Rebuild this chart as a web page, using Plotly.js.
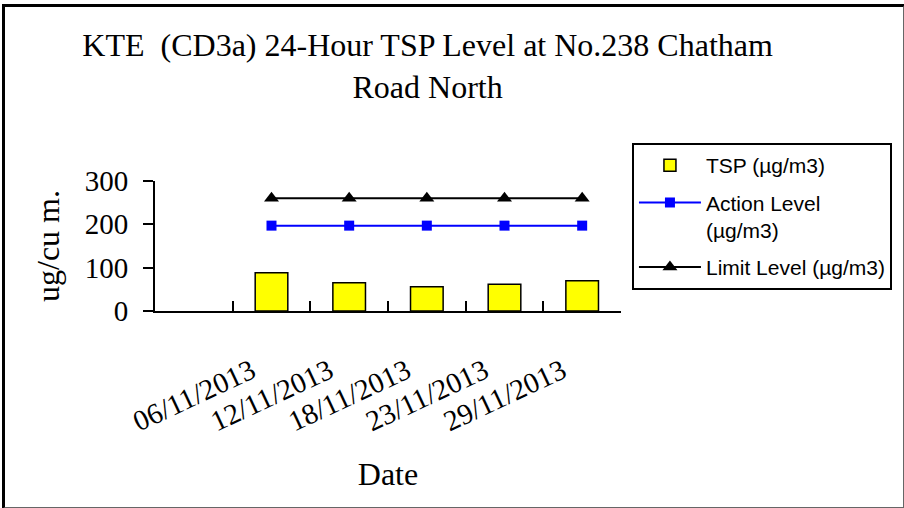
<!DOCTYPE html>
<html>
<head>
<meta charset="utf-8">
<script src="https://cdn.plot.ly/plotly-3.0.1.min.js"></script>
<style>
  body { margin: 0; background: #fff; }
  #wrap { position: relative; width: 904px; height: 508px; }
  #chart { width: 904px; height: 508px; }
  #frame {
    position: absolute; left: 2px; top: 4px; width: 898px; height: 500px;
    border-left: 3px solid #000; border-top: 3px solid #000;
    border-right: 2px solid #666; border-bottom: 2px solid #666;
    pointer-events: none;
  }
</style>
</head>
<body>
<div id="wrap">
  <div id="chart"></div>
  <div id="frame"></div>
</div>
<script>
"use strict";
// sampling dates and 24-hour TSP results
var dates = ['06/11/2013', '12/11/2013', '18/11/2013', '23/11/2013', '29/11/2013'];
var tsp = [88, 65, 56, 62, 70];
var actionLevel = [197, 197, 197, 197, 197];
var limitLevel = [260, 260, 260, 260, 260];

var serif = 'Liberation Serif, Times New Roman, serif';
var sans = 'Liberation Sans, Arial, sans-serif';

function draw(){
  let bars = {
    x: dates, y: tsp, type: 'bar', name: 'TSP (µg/m3)',
    legendgroup: 'a',
    marker: {color: '#ffff00', line: {color: '#000', width: 1.5}}
  };
  let action = {
    x: dates, y: actionLevel, type: 'scatter', mode: 'lines+markers',
    name: 'Action Level<br>(µg/m3)', legendgroup: 'b',
    line: {color: '#0000ff', width: 2},
    marker: {symbol: 'square', size: 10, color: '#0000ff'}
  };
  let limit = {
    x: dates, y: limitLevel, type: 'scatter', mode: 'lines+markers',
    name: 'Limit Level (µg/m3)', legendgroup: 'c',
    line: {color: '#000', width: 2},
    marker: {symbol: 'triangle-up', size: 13, color: '#000'}
  };

  let format = {
    width: 904, height: 508,
    margin: {l: 155, r: 281, t: 181, b: 197},
    paper_bgcolor: '#fff', plot_bgcolor: '#fff',
    showlegend: true,
    bargap: 0.58,
    title: {
      text: 'KTE  (CD3a) 24-Hour TSP Level at No.238 Chatham<br>Road North',
      font: {family: serif, size: 32, color: '#000'},
      x: 0.473, xanchor: 'center',
      y: 1 - 56 / 508, yanchor: 'top', yref: 'container',
      pad: {t: 0, b: 0}
    },
    xaxis: {
      type: 'category',
      range: [-1.5, 4.5],
      showline: true, linecolor: '#000', linewidth: 2,
      ticks: 'inside', ticklen: 10, tickwidth: 2, tickcolor: '#000',
      tickson: 'boundaries',
      tickangle: -25,
      ticklabelstandoff: 30,
      ticklabelshift: -20,
      tickfont: {family: serif, size: 29, color: '#000'},
      showgrid: false, zeroline: false,
      title: {text: 'Date', font: {family: serif, size: 32, color: '#000'}, standoff: 26}
    },
    yaxis: {
      range: [0, 300],
      tickvals: [0, 100, 200, 300],
      showline: true, linecolor: '#000', linewidth: 2,
      ticks: 'outside', ticklen: 10, tickwidth: 2, tickcolor: '#000',
      ticklabelstandoff: 9,
      tickfont: {family: serif, size: 29, color: '#000'},
      showgrid: false, zeroline: false,
      title: {text: 'ug/cu m.', font: {family: serif, size: 32, color: '#000'}, standoff: 16}
    },
    yaxis2: {
      range: [0, 300], overlaying: 'y', side: 'left', anchor: 'x',
      tickvals: [0, 100, 200, 300],
      ticks: 'inside', ticklen: 10, tickwidth: 2, tickcolor: '#000',
      showticklabels: false, showgrid: false, zeroline: false, showline: false
    },
    legend: {
      x: 1.0235, xanchor: 'left', y: 1.292, yanchor: 'top',
      bgcolor: '#fff', bordercolor: '#000', borderwidth: 2,
      font: {family: sans, size: 21, color: '#000'},
      valign: 'top', tracegroupgap: 7, itemwidth: 62,
      traceorder: 'grouped'
    }
  };

  Plotly.newPlot('chart', [bars, action, limit], format, {displayModeBar: false});
}
draw();
</script>
</body>
</html>
